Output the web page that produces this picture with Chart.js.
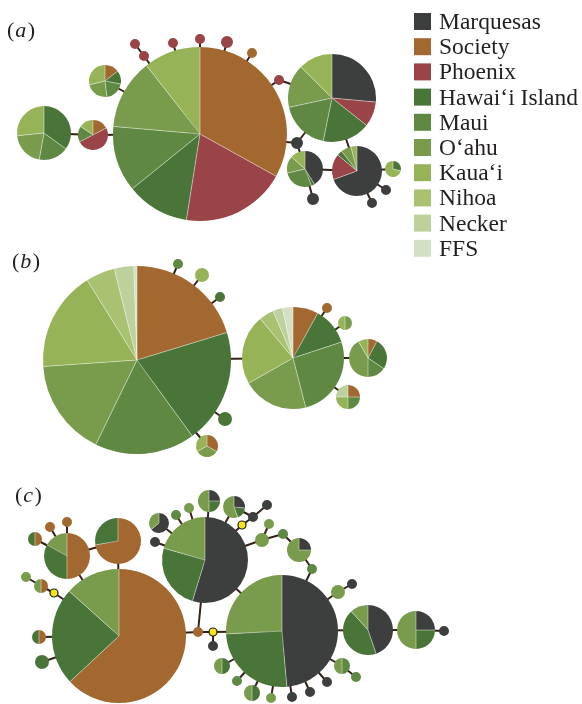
<!DOCTYPE html>
<html>
<head>
<meta charset="utf-8">
<script src="https://cdn.jsdelivr.net/npm/chart.js@4.4.0/dist/chart.umd.min.js"></script>
<style>
  html, body { margin: 0; padding: 0; background: #fff; }
  #wrap { width: 582px; height: 704px; position: relative; }
</style>
</head>
<body>
<div id="wrap"><canvas id="net"></canvas></div>
<script>
// island groups, in the order slices run clockwise from 12 o'clock
const categories = ['Marquesas', 'Society', 'Phoenix', 'Hawai‘i Island', 'Maui', 'O‘ahu', 'Kaua‘i', 'Nihoa', 'Necker', 'FFS'];
const panelLetters = ['a', 'b', 'c'];

// haplotype nodes: [id, x, y, size, counts per category (missing = 0)]
// an all-zero count means an inferred haplotype (yellow dot)
const nodesA = [
    ['a1', 200, 134, 87, [0, 119, 70, 42, 44, 47, 38]],
    ['a2', 332, 98, 44, [95, 0, 33, 63, 66, 57, 45]],
    ['a3', 357, 171, 25, [250, 0, 60, 12, 0, 24, 14]],
    ['a4', 305, 169, 18, [148, 0, 0, 11, 98, 55, 48]],
    ['a5', 44, 133, 27, [0, 0, 0, 126, 64, 74, 96]],
    ['a6', 93, 135, 15, [0, 62, 181, 0, 62, 0, 55]],
    ['a7', 105, 81, 16, [0, 52, 0, 49, 72, 83, 104]],
    ['a8', 144, 56, 5, [0, 0, 1]],
    ['a9', 135, 44, 5, [0, 0, 1]],
    ['a10', 173, 43, 5, [0, 0, 1]],
    ['a11', 200, 39, 5, [0, 0, 1]],
    ['a12', 227, 42, 6, [0, 0, 1]],
    ['a13', 252, 53, 5, [0, 1]],
    ['a14', 279, 80, 5, [0, 0, 1]],
    ['a15', 297, 143, 6, [1]],
    ['a16', 313, 199, 6, [1]],
    ['a17', 393, 169, 8, [0, 0, 0, 1, 0, 0, 2.5]],
    ['a18', 386, 190, 5, [1]],
    ['a19', 372, 203, 5, [1]]
];
const edgesA = [
    ['a1', 'a8'], ['a8', 'a9'], ['a1', 'a10'], ['a1', 'a11'], ['a1', 'a12'], ['a1', 'a13'],
    ['a1', 'a14'], ['a14', 'a2'], ['a1', 'a15'], ['a15', 'a2'], ['a15', 'a4'], ['a2', 'a3'],
    ['a4', 'a3'], ['a3', 'a17'], ['a3', 'a18'], ['a3', 'a19'], ['a4', 'a16'],
    ['a1', 'a6'], ['a6', 'a5'], ['a1', 'a7']
];

const nodesB = [
    ['b1', 137, 360, 94, [0, 73, 0, 71, 62, 60, 62, 18, 12, 2]],
    ['b2', 293, 358, 51, [0, 29, 0, 43, 94, 75, 80, 17, 11, 12]],
    ['b3', 368, 358, 19, [0, 28, 0, 96, 56, 150, 30]],
    ['b4', 348, 397, 12, [0, 1, 0, 0, 1, 0, 1, 0, 1]],
    ['b5', 178, 264, 5, [0, 0, 0, 0, 1]],
    ['b6', 202, 275, 7, [0, 0, 0, 0, 0, 0, 1]],
    ['b7', 220, 297, 5, [0, 0, 0, 1]],
    ['b8', 225, 419, 7, [0, 0, 0, 1]],
    ['b9', 207, 446, 11, [0, 1, 0, 0, 0, 1, 1]],
    ['b10', 327, 308, 5, [0, 1]],
    ['b11', 345, 323, 7, [0, 0, 0, 0, 0, 1, 1]]
];
const edgesB = [
    ['b1', 'b2'], ['b1', 'b5'], ['b1', 'b6'], ['b1', 'b7'], ['b1', 'b8'], ['b1', 'b9'],
    ['b2', 'b3'], ['b2', 'b4'], ['b2', 'b10'], ['b2', 'b11']
];

const nodesC = [
    ['c1', 119, 636, 67, [0, 227, 0, 85, 0, 48]],
    ['c2', 118, 541, 23, [0, 260, 0, 100]],
    ['c3', 67, 556, 23, [0, 180, 0, 119, 0, 61]],
    ['c4', 205, 560, 43, [197, 0, 0, 89, 0, 74]],
    ['c5', 282, 631, 56, [175, 0, 0, 92, 0, 93]],
    ['c6', 368, 630, 25, [161, 0, 0, 157, 0, 42]],
    ['c7', 416, 630, 19, [1, 0, 0, 1, 0, 2]],
    ['c8', 50, 527, 5, [0, 1]],
    ['c9', 67, 522, 5, [0, 1]],
    ['c10', 35, 539, 7, [0, 1, 0, 1]],
    ['c11', 41, 586, 7, [0, 1, 0, 0, 0, 1]],
    ['c12', 26, 577, 5, [0, 0, 0, 0, 0, 1]],
    ['c13', 54, 593, 4, []],
    ['c14', 39, 637, 7, [0, 1, 0, 1]],
    ['c15', 42, 662, 7, [0, 0, 0, 1]],
    ['c16', 198, 632, 5, [0, 1]],
    ['c17', 213, 632, 4, []],
    ['c18', 213, 646, 5, [1]],
    ['c19', 159, 523, 10, [230, 0, 0, 0, 0, 130]],
    ['c20', 155, 542, 5, [1]],
    ['c21', 176, 515, 5, [0, 0, 0, 0, 1]],
    ['c22', 189, 508, 5, [0, 0, 0, 0, 0, 1]],
    ['c23', 209, 501, 11, [1, 0, 0, 1, 0, 2]],
    ['c24', 234, 507, 11, [95, 0, 0, 65, 0, 200]],
    ['c25', 242, 525, 4, []],
    ['c26', 253, 517, 5, [1]],
    ['c27', 267, 505, 5, [1]],
    ['c28', 262, 540, 7, [0, 0, 0, 0, 0, 1]],
    ['c29', 269, 524, 5, [0, 0, 0, 0, 0, 1]],
    ['c30', 283, 534, 5, [0, 0, 0, 0, 1]],
    ['c31', 299, 550, 12, [1, 0, 0, 0, 0, 3]],
    ['c32', 312, 569, 5, [0, 0, 0, 0, 1]],
    ['c33', 338, 592, 7, [0, 0, 0, 0, 0, 1]],
    ['c34', 352, 584, 5, [1]],
    ['c35', 342, 666, 8, [0, 0, 0, 0, 1, 1]],
    ['c36', 356, 677, 5, [0, 0, 0, 0, 1]],
    ['c37', 327, 682, 5, [1]],
    ['c38', 310, 692, 5, [1]],
    ['c39', 292, 697, 5, [1]],
    ['c40', 271, 698, 5, [0, 0, 0, 0, 0, 1]],
    ['c41', 252, 693, 8, [0, 0, 0, 1, 0, 1]],
    ['c42', 237, 681, 5, [0, 0, 0, 0, 1]],
    ['c43', 222, 666, 8, [0, 0, 0, 1, 0, 1]],
    ['c44', 444, 631, 5, [1]]
];
const edgesC = [
    ['c1', 'c2'], ['c2', 'c3'], ['c3', 'c1'], ['c3', 'c8'], ['c3', 'c9'], ['c3', 'c10'],
    ['c1', 'c13'], ['c13', 'c11'], ['c11', 'c12'], ['c1', 'c14'], ['c1', 'c15'],
    ['c1', 'c16'], ['c16', 'c4'], ['c16', 'c17'], ['c17', 'c5'], ['c17', 'c18'], ['c4', 'c5'],
    ['c4', 'c19'], ['c4', 'c20'], ['c4', 'c21'], ['c4', 'c22'], ['c4', 'c23'], ['c4', 'c24'],
    ['c24', 'c26'], ['c4', 'c25'], ['c25', 'c26'], ['c26', 'c27'],
    ['c4', 'c28'], ['c28', 'c29'], ['c28', 'c30'], ['c30', 'c31'], ['c31', 'c32'], ['c32', 'c5'],
    ['c5', 'c33'], ['c33', 'c34'], ['c5', 'c35'], ['c35', 'c36'], ['c5', 'c37'], ['c5', 'c38'],
    ['c5', 'c39'], ['c5', 'c40'], ['c5', 'c41'], ['c5', 'c42'], ['c5', 'c43'],
    ['c5', 'c6'], ['c6', 'c7'], ['c7', 'c44']
];

const palette = ['#3d3f3e', '#a2682f', '#9b4447', '#4a7539', '#5f8942', '#799b4c', '#97b357', '#a8c272', '#bcd19c', '#d4e0c3'];
const inferredFill = '#f6e619';
const edgeColor = '#35231a';
const serif = '"Liberation Serif", "DejaVu Serif", serif';

const panels = [[nodesA, edgesA], [nodesB, edgesB], [nodesC, edgesC]];

function edgePoints(nodes, edges) {
    const byId = {};
    nodes.forEach(n => byId[n[0]] = n);
    const pts = [];
    edges.forEach(([p, q]) => {
        pts.push({ x: byId[p][1], y: byId[p][2] }, { x: byId[q][1], y: byId[q][2] }, { x: null, y: null });
    });
    return pts;
}

const datasets = [];
panels.forEach(([nodes, edges]) => {
    datasets.push({
        type: 'line',
        data: edgePoints(nodes, edges),
        borderColor: edgeColor,
        borderWidth: 2,
        pointRadius: 0,
        tension: 0,
        spanGaps: false,
        order: 2
    });
    datasets.push({
        type: 'bubble',
        data: nodes.map(n => ({ x: n[1], y: n[2], r: n[3], counts: n[4] })),
        backgroundColor: 'rgba(0,0,0,0)',
        borderWidth: 0,
        hoverRadius: 0,
        order: 1
    });
});

// draws each bubble as a pie of its island counts
const pieNodes = {
    id: 'pieNodes',
    afterDatasetsDraw(chart) {
        const ctx = chart.ctx;
        chart.data.datasets.forEach((ds, di) => {
            if (ds.type !== 'bubble') return;
            const meta = chart.getDatasetMeta(di);
            meta.data.forEach((el, i) => {
                const counts = ds.data[i].counts;
                const r = el.options.radius;
                const total = counts.reduce((s, v) => s + v, 0);
                ctx.save();
                if (!total) {
                    ctx.beginPath();
                    ctx.arc(el.x, el.y, r, 0, Math.PI * 2);
                    ctx.fillStyle = inferredFill;
                    ctx.fill();
                    ctx.lineWidth = 1.2;
                    ctx.strokeStyle = '#1e1a14';
                    ctx.stroke();
                    ctx.restore();
                    return;
                }
                let a = -Math.PI / 2;
                const cuts = [];
                counts.forEach((v, k) => {
                    if (!v) return;
                    const b = a + v / total * Math.PI * 2;
                    ctx.beginPath();
                    ctx.moveTo(el.x, el.y);
                    ctx.arc(el.x, el.y, r, a, b);
                    ctx.closePath();
                    ctx.fillStyle = palette[k];
                    ctx.fill();
                    cuts.push(a);
                    a = b;
                });
                if (cuts.length > 1) {
                    ctx.strokeStyle = 'rgba(255,255,255,0.55)';
                    ctx.lineWidth = 0.8;
                    cuts.forEach(c => {
                        ctx.beginPath();
                        ctx.moveTo(el.x, el.y);
                        ctx.lineTo(el.x + Math.cos(c) * r, el.y + Math.sin(c) * r);
                        ctx.stroke();
                    });
                }
                ctx.restore();
            });
        });
    }
};

// island key at top right and the panel letters
const keyAndLetters = {
    id: 'keyAndLetters',
    afterDraw(chart) {
        const ctx = chart.ctx;
        ctx.save();
        ctx.textBaseline = 'alphabetic';
        ctx.font = '23.5px ' + serif;
        categories.forEach((name, i) => {
            const top = 13 + i * 25.2;
            ctx.fillStyle = palette[i];
            ctx.fillRect(414, top, 17, 17);
            ctx.fillStyle = '#231f20';
            ctx.fillText(name, 439, top + 16);
        });
        const letterPos = [[7, 37], [12, 268], [15, 502]];
        panelLetters.forEach((l, i) => {
            let [x, y] = letterPos[i];
            ctx.fillStyle = '#231f20';
            ctx.font = '22px ' + serif;
            ctx.fillText('(', x, y);
            x += ctx.measureText('(').width + 1;
            ctx.font = 'italic 22px ' + serif;
            ctx.fillText(l, x, y);
            x += ctx.measureText(l).width + 1.5;
            ctx.font = '22px ' + serif;
            ctx.fillText(')', x, y);
        });
        ctx.restore();
    }
};

new Chart(document.getElementById('net'), {
    data: { datasets },
    options: {
        responsive: true,
        maintainAspectRatio: false,
        animation: false,
        events: [],
        layout: { padding: 0, autoPadding: false },
        plugins: { legend: { display: false }, tooltip: { enabled: false } },
        scales: {
            x: { type: 'linear', min: 0, max: 582, display: false },
            y: { type: 'linear', min: 0, max: 704, reverse: true, display: false }
        }
    },
    plugins: [pieNodes, keyAndLetters]
});
</script>
</body>
</html>
